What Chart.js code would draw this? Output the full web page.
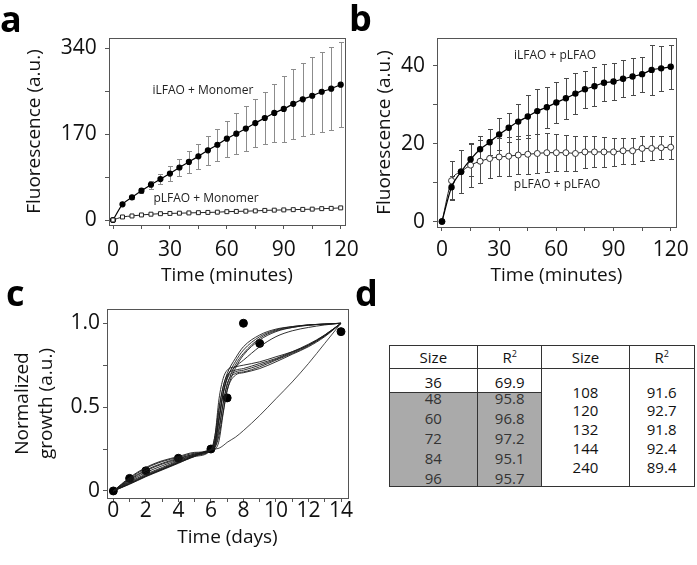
<!DOCTYPE html>
<html>
<head>
<meta charset="utf-8">
<script src="https://cdn.jsdelivr.net/npm/chart.js@4.4.1/dist/chart.umd.min.js"></script>
<style>
body { margin: 0; background: #fff; width: 697px; height: 565px; position: relative; overflow: hidden; font-family: "Open Sans", sans-serif; }
canvas { position: absolute; }
.panel { position: absolute; font-weight: bold; font-size: 36px; line-height: 36px; color: #000; }
.cell { position: absolute; text-align: center; font-size: 15px; line-height: 20px; color: #111; }
.ln { position: absolute; background: #333; }
</style>
</head>
<body>
<canvas id="chartA" width="370" height="295" style="left:0;top:0"></canvas>
<canvas id="chartB" width="347" height="295" style="left:350px;top:0"></canvas>
<canvas id="chartC" width="370" height="285" style="left:0;top:280px"></canvas>
<div id="table"></div>
<div class="panel" style="left:0;top:1px">a</div>
<div class="panel" style="left:349px;top:0">b</div>
<div class="panel" style="left:6px;top:275px">c</div>
<div class="panel" style="left:355px;top:275px">d</div>
<script>
// panel a / b: time in minutes
var timeMin = [0, 5, 10, 15, 20, 25, 30, 35, 40, 45, 50, 55, 60, 65, 70, 75, 80, 85, 90, 95, 100, 105, 110, 115, 120];

var iLFAO_Monomer = [0, 31, 45, 58, 70, 81, 92, 104, 115, 126, 138, 149, 161, 171, 181, 192, 202, 212, 220, 230, 239, 246, 254, 260, 268];
var iLFAO_Monomer_err = [0, 2, 3, 5, 8, 10, 14, 17, 21, 25, 29, 32, 36, 40, 44, 48, 52, 58, 65, 70, 72, 76, 79, 82, 84];
var pLFAO_Monomer = [0, 6, 8, 10, 11.5, 12.5, 13, 13.5, 14, 14.5, 15, 15.5, 16.5, 17, 17.5, 18, 19, 19.5, 20, 20.5, 21, 21.5, 22.5, 23, 24];

var iLFAO_pLFAO = [0, 8.8, 12.8, 16.0, 18.6, 20.4, 22.4, 24.1, 25.7, 27.0, 28.4, 29.4, 30.6, 31.7, 32.9, 34.0, 34.8, 35.7, 36.0, 36.7, 37.3, 37.9, 39.0, 39.4, 39.8];
var iLFAO_pLFAO_err = [0, 3, 5.5, 4.3, 3.5, 3.3, 4.1, 3.7, 4.4, 5.5, 5.8, 5.3, 5.3, 5.3, 5.2, 4.8, 5, 4.8, 4.7, 4.8, 4.7, 4.5, 6.4, 5.8, 5.6];
var pLFAO_pLFAO = [0, 10.5, 12.8, 14.5, 15.5, 16.2, 16.6, 16.8, 17.1, 17.3, 17.5, 17.7, 17.7, 17.7, 17.5, 17.9, 17.9, 17.9, 17.9, 18.2, 18.2, 18.8, 18.8, 19.0, 19.1];
var pLFAO_pLFAO_err = [0, 5, 5.5, 5.5, 5.5, 5, 5, 5, 5, 5, 5, 5, 4.8, 4.6, 4.4, 4.2, 4, 3.8, 3.6, 3.4, 3.3, 3.2, 3.1, 3, 2.9];

// panel c: measured growth and fitted curves (one per size)
var days = [0, 1, 2, 4, 6, 7, 8, 9, 14];
var growth = [0, 0.075, 0.12, 0.195, 0.25, 0.555, 1.0, 0.88, 0.95];
var fitDays = [0, 1, 2, 3, 4, 5, 6, 6.25, 6.5, 6.75, 7, 7.5, 8, 9, 10, 11, 12, 13, 14];
var fit36  = [0, 0.045, 0.09, 0.13, 0.17, 0.21, 0.245, 0.25, 0.255, 0.27, 0.29, 0.32, 0.36, 0.45, 0.55, 0.65, 0.76, 0.88, 1.0];
var fit48  = [0, 0.08, 0.14, 0.18, 0.205, 0.23, 0.245, 0.33, 0.50, 0.62, 0.70, 0.79, 0.86, 0.93, 0.965, 0.98, 0.99, 0.995, 1.0];
var fit60  = [0, 0.075, 0.135, 0.175, 0.2, 0.225, 0.245, 0.30, 0.44, 0.58, 0.67, 0.77, 0.84, 0.92, 0.96, 0.98, 0.99, 0.995, 1.0];
var fit72  = [0, 0.07, 0.125, 0.165, 0.195, 0.22, 0.245, 0.27, 0.38, 0.52, 0.63, 0.75, 0.82, 0.91, 0.955, 0.975, 0.988, 0.995, 1.0];
var fit84  = [0, 0.065, 0.12, 0.16, 0.19, 0.22, 0.245, 0.28, 0.42, 0.58, 0.68, 0.74, 0.78, 0.86, 0.92, 0.955, 0.975, 0.99, 1.0];
var fit96  = [0, 0.06, 0.11, 0.15, 0.185, 0.215, 0.245, 0.26, 0.33, 0.47, 0.6, 0.73, 0.81, 0.9, 0.95, 0.975, 0.99, 0.995, 1.0];
var fit108 = [0, 0.04, 0.085, 0.125, 0.165, 0.205, 0.245, 0.33, 0.55, 0.67, 0.72, 0.74, 0.75, 0.77, 0.80, 0.83, 0.87, 0.93, 1.0];
var fit120 = [0, 0.045, 0.09, 0.13, 0.17, 0.21, 0.245, 0.3, 0.48, 0.62, 0.69, 0.72, 0.73, 0.76, 0.79, 0.83, 0.875, 0.93, 1.0];
var fit132 = [0, 0.05, 0.095, 0.135, 0.175, 0.21, 0.245, 0.28, 0.43, 0.58, 0.67, 0.71, 0.72, 0.75, 0.785, 0.825, 0.87, 0.925, 1.0];
var fit144 = [0, 0.042, 0.088, 0.128, 0.168, 0.206, 0.245, 0.26, 0.36, 0.52, 0.64, 0.7, 0.71, 0.74, 0.78, 0.82, 0.865, 0.925, 1.0];
var fit240 = [0, 0.055, 0.1, 0.14, 0.18, 0.215, 0.245, 0.25, 0.3, 0.46, 0.6, 0.69, 0.705, 0.73, 0.77, 0.815, 0.86, 0.92, 1.0];

// panel d table
var sizeLeft = ['36', '48', '60', '72', '84', '96'];
var r2Left = ['69.9', '95.8', '96.8', '97.2', '95.1', '95.7'];
var sizeRight = ['108', '120', '132', '144', '240'];
var r2Right = ['91.6', '92.7', '91.8', '92.4', '89.4'];

Chart.defaults.font.family = '"Open Sans", sans-serif';
Chart.defaults.color = '#111';

function pts(xs, ys) {
  return xs.map(function (x, i) { return { x: x, y: ys[i] }; });
}

// box around the plot area
var frame = {
  id: 'frame',
  afterDraw: function (chart) {
    var a = chart.chartArea, ctx = chart.ctx;
    ctx.save();
    ctx.strokeStyle = '#555';
    ctx.lineWidth = 1;
    ctx.strokeRect(Math.round(a.left) + 0.5, Math.round(a.top) + 0.5, Math.round(a.right - a.left), Math.round(a.bottom - a.top));
    ctx.restore();
  }
};

var errBars = {
  id: 'errBars',
  beforeDatasetsDraw: function (chart, args, opts) {
    var ctx = chart.ctx, x = chart.scales.x, y = chart.scales.y;
    ctx.save();
    ctx.lineWidth = 1;
    chart.data.datasets.forEach(function (ds) {
      if (!ds.errors) return;
      ctx.strokeStyle = ds.errColor || '#777';
      ds.data.forEach(function (p, i) {
        var e = ds.errors[i];
        if (!e) return;
        var px = Math.round(x.getPixelForValue(p.x)) + 0.5;
        var y1 = Math.round(y.getPixelForValue(p.y - e)) + 0.5;
        var y2 = Math.round(y.getPixelForValue(p.y + e)) + 0.5;
        ctx.beginPath();
        ctx.moveTo(px, y1); ctx.lineTo(px, y2);
        ctx.moveTo(px - 2.5, y1); ctx.lineTo(px + 2.5, y1);
        ctx.moveTo(px - 2.5, y2); ctx.lineTo(px + 2.5, y2);
        ctx.stroke();
      });
    });
    ctx.restore();
  }
};

var notes = {
  id: 'notes',
  afterDraw: function (chart, args, opts) {
    if (!opts.items) return;
    var ctx = chart.ctx;
    ctx.save();
    ctx.font = '12px "Open Sans", sans-serif';
    ctx.fillStyle = '#222';
    ctx.textAlign = 'center';
    ctx.textBaseline = 'middle';
    opts.items.forEach(function (n) {
      ctx.fillText(n.text, chart.scales.x.getPixelForValue(n.x), chart.scales.y.getPixelForValue(n.y));
    });
    ctx.restore();
  }
};

function scale(o) {
  return {
    type: 'linear',
    min: o.min, max: o.max,
    afterBuildTicks: function (s) { s.ticks = o.ticks.map(function (v) { return { value: v }; }); },
    afterFit: function (s) { if (o.width) s.width = o.width; if (o.height) s.height = o.height; },
    ticks: {
      autoSkip: false, maxRotation: 0, padding: o.pad, color: '#111',
      font: { size: 21 },
      callback: function (v) { return o.label(v); }
    },
    grid: { drawOnChartArea: false, tickLength: 4, color: '#555' },
    border: { display: false },
    title: { display: true, text: o.title, color: '#111', font: { size: 19, lineHeight: o.lh || 1.2 }, padding: o.titlePad }
  };
}

function baseOptions(layoutPad, xs, ys, items) {
  return {
    responsive: false, animation: false, devicePixelRatio: 1,
    layout: { padding: layoutPad },
    plugins: { legend: { display: false }, tooltip: { enabled: false }, notes: { items: items } },
    scales: { x: scale(xs), y: scale(ys) }
  };
}

var every30 = function (v) { return v % 30 === 0 ? String(v) : ''; };

// panel a
new Chart(document.getElementById('chartA'), {
  type: 'line',
  data: {
    datasets: [
      { data: pts(timeMin, pLFAO_Monomer), borderColor: '#222', borderWidth: 1, pointStyle: 'rect', pointRadius: 2.8,
        pointBackgroundColor: '#fff', pointBorderColor: '#222', pointBorderWidth: 1, cubicInterpolationMode: 'monotone' },
      { data: pts(timeMin, iLFAO_Monomer), errors: iLFAO_Monomer_err, errColor: '#8c8c8c', borderColor: '#000', borderWidth: 1.2,
        pointRadius: 2.5, pointBackgroundColor: '#000', pointBorderColor: '#000', cubicInterpolationMode: 'monotone' }
    ]
  },
  options: baseOptions({ left: 0, top: 38, right: 25, bottom: 0 },
    { min: -2.11, max: 122.27, ticks: [0, 15, 30, 45, 60, 75, 90, 105, 120], label: every30, pad: 8.4, height: 70,
      title: 'Time (minutes)', titlePad: { top: 0, bottom: 7.6 } },
    { min: -9.9, max: 360.4, ticks: [0, 85, 170, 255, 340], label: function (v) { return v % 170 === 0 ? String(v) : ''; },
      pad: 8.3, width: 109, title: 'Fluorescence (a.u.)', titlePad: { top: 23.6, bottom: 0 } },
    [{ text: 'iLFAO + Monomer', x: 47.4, y: 256 }, { text: 'pLFAO + Monomer', x: 49, y: 41.6 }]),
  plugins: [frame, errBars, notes]
});

// panel b
new Chart(document.getElementById('chartB'), {
  type: 'line',
  data: {
    datasets: [
      { data: pts(timeMin, iLFAO_pLFAO), errors: iLFAO_pLFAO_err, errColor: '#4a4a4a', borderColor: '#000', borderWidth: 1.2,
        pointRadius: 2.6, pointBackgroundColor: '#000', pointBorderColor: '#000', cubicInterpolationMode: 'monotone' },
      { data: pts(timeMin, pLFAO_pLFAO), errors: pLFAO_pLFAO_err, errColor: '#4a4a4a', borderColor: '#222', borderWidth: 1,
        pointRadius: 3, pointBackgroundColor: '#fff', pointBorderColor: '#333', pointBorderWidth: 1, cubicInterpolationMode: 'monotone' }
    ]
  },
  options: baseOptions({ left: 0, top: 38, right: 21, bottom: 0 },
    { min: -2.62, max: 122.78, ticks: [0, 15, 30, 45, 60, 75, 90, 105, 120], label: every30, pad: 6.4, height: 68,
      title: 'Time (minutes)', titlePad: { top: 0, bottom: 7.6 } },
    { min: -1.41, max: 47.2, ticks: [0, 10, 20, 30, 40], label: function (v) { return v % 20 === 0 ? String(v) : ''; },
      pad: 8, width: 87, title: 'Fluorescence (a.u.)', titlePad: { top: 23.6, bottom: 0 } },
    [{ text: 'iLFAO + pLFAO', x: 59.3, y: 42.8 }, { text: 'pLFAO + pLFAO', x: 60.4, y: 9.6 }]),
  plugins: [frame, errBars, notes]
});

// panel c
var fits = [fit36, fit48, fit60, fit72, fit84, fit96, fit108, fit120, fit132, fit144, fit240];
var cSets = fits.map(function (f, i) {
  return { data: pts(fitDays, f), borderColor: '#1a1a1a', borderWidth: i === 0 ? 0.8 : 0.9, pointRadius: 0,
    cubicInterpolationMode: 'monotone' };
});
cSets.push({ data: pts(days, growth), showLine: false, pointRadius: 4, pointBackgroundColor: '#000', pointBorderColor: '#000' });

new Chart(document.getElementById('chartC'), {
  type: 'line',
  data: { datasets: cSets },
  options: baseOptions({ left: 0, top: 29, right: 22, bottom: 0 },
    { min: -0.39, max: 14.43, ticks: [0, 1, 2, 3, 4, 5, 6, 7, 8, 9, 10, 11, 12, 13, 14],
      label: function (v) { return v % 2 === 0 ? String(v) : ''; }, pad: -4, height: 67,
      title: 'Time (days)', titlePad: { top: 0, bottom: 15.6 } },
    { min: -0.042, max: 1.085, ticks: [0, 0.25, 0.5, 0.75, 1],
      label: function (v) { return v === 0 ? '0' : v === 0.5 ? '0.5' : v === 1 ? '1.0' : ''; },
      pad: 3, width: 107, title: ['Normalized', 'growth (a.u.)'], lh: 1.26, titlePad: { top: 11, bottom: 0 } },
    null),
  plugins: [frame]
});

// panel d: table built from divs
(function () {
  var root = document.getElementById('table');
  var cols = [389, 477.7, 541.7, 629.3, 694];
  function cell(text, c, cy, cls) {
    var d = document.createElement('div');
    d.className = 'cell';
    d.style.left = cols[c] + 'px';
    d.style.width = (cols[c + 1] - cols[c]) + 'px';
    d.style.top = (cy - 10) + 'px';
    if (cls) d.style.color = cls;
    d.innerHTML = text;
    root.appendChild(d);
  }
  function line(x, y, w, h) {
    var d = document.createElement('div');
    d.className = 'ln';
    d.style.left = x + 'px'; d.style.top = y + 'px';
    d.style.width = w + 'px'; d.style.height = h + 'px';
    root.appendChild(d);
  }
  var shade = document.createElement('div');
  shade.style.cssText = 'position:absolute;left:389px;top:392.7px;width:152.7px;height:93.3px;background:#aaaaaa';
  root.appendChild(shade);

  var r2 = 'R<sup style="font-size:9px;vertical-align:6px;line-height:0">2</sup>';
  cell('Size', 0, 356.5); cell(r2, 1, 356.5); cell('Size', 2, 356.5); cell(r2, 3, 356.5);
  cell(sizeLeft[0], 0, 381.5); cell(r2Left[0], 1, 381.5);
  for (var i = 1; i < sizeLeft.length; i++) {
    cell(sizeLeft[i], 0, 398.3 + (i - 1) * 20, '#333');
    cell(r2Left[i], 1, 398.3 + (i - 1) * 20, '#333');
  }
  for (var j = 0; j < sizeRight.length; j++) {
    cell(sizeRight[j], 2, 391.7 + j * 18.75);
    cell(r2Right[j], 3, 391.7 + j * 18.75);
  }
  // borders
  line(389, 344.5, 305, 1.5); line(389, 485.5, 305, 1.5);
  line(388.5, 344.5, 1.5, 142); line(693.5, 344.5, 1.5, 142);
  line(389, 367.5, 305, 1);
  line(389, 392.2, 152.7, 1);
  line(477.2, 345, 1, 141); line(541.2, 345, 1, 141); line(628.8, 345, 1, 141);
})();
</script>
</body>
</html>
